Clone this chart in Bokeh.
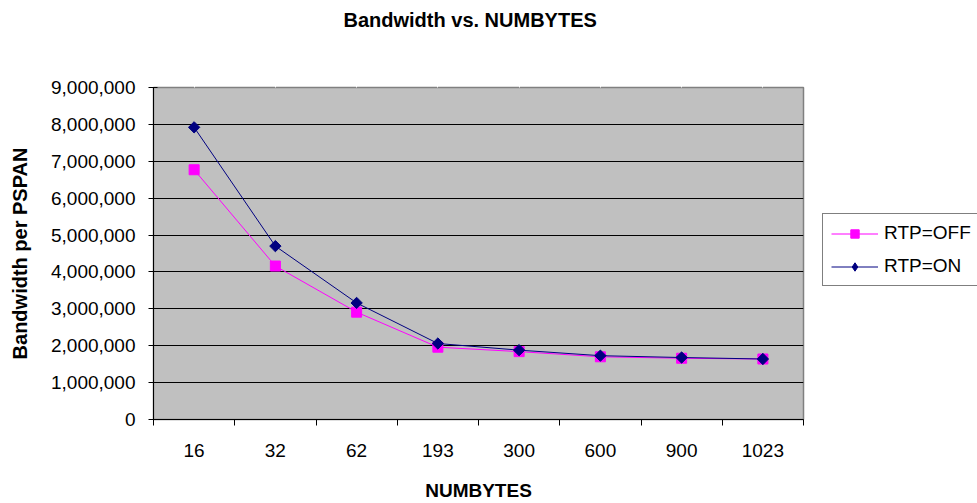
import numpy as np
from bokeh.plotting import figure
from bokeh.layouts import row
from bokeh.models import (Range1d, FixedTicker, NumeralTickFormatter, Legend, LegendItem, LinearAxis)
from bokeh.embed import file_html
from bokeh.resources import INLINE

# ---- data ----
categories = ["16", "32", "62", "193", "300", "600", "900", "1023"]
rtp_off = [6770000, 4160000, 2910000, 1960000, 1840000, 1700000, 1660000, 1640000]
rtp_on = [7920000, 4700000, 3160000, 2060000, 1880000, 1730000, 1680000, 1640000]
y_ticks = [0, 1000000, 2000000, 3000000, 4000000, 5000000, 6000000, 7000000, 8000000, 9000000]

title_text = "Bandwidth vs. NUMBYTES"
x_title = "NUMBYTES"
y_title = "Bandwidth per PSPAN"
off_label = "RTP=OFF"
on_label = "RTP=ON"

OFF_COLOR = "#FF00FF"
ON_COLOR = "#000080"
FONT = "Liberation Sans"

xs = [i + 0.5 for i in range(len(categories))]

p = figure(width=822, height=503, output_backend="svg", toolbar_location=None,
           x_range=Range1d(0, len(categories)), y_range=Range1d(y_ticks[0], y_ticks[-1]),
           min_border_left=153, min_border_right=19, min_border_top=87, min_border_bottom=82,
           background_fill_color="#C0C0C0", border_fill_color="white")

p.outline_line_color = "#808080"
p.outline_line_width = 1.5

# spacer axis above the frame (invisible ticks, empty labels) so the title sits at the top
spacer = LinearAxis(ticker=FixedTicker(ticks=xs), axis_line_color=None,
                    major_tick_line_color="white", minor_tick_line_color=None,
                    major_tick_out=57, major_tick_in=0, minor_tick_out=0, minor_tick_in=0,
                    major_label_overrides={x: "" for x in xs},
                    major_label_standoff=0, major_label_text_font_size="1px")
p.add_layout(spacer, "above")

# title (placed by Bokeh outside the top axis)
p.title.text = title_text
p.title.align = "left"
p.title.offset = 190
p.title.standoff = 0
p.title.text_font = FONT
p.title.text_font_size = "20px"
p.title.text_font_style = "bold"
p.title.text_color = "black"

# x axis
xa = p.below[0]
xa.ticker = FixedTicker(ticks=xs, minor_ticks=list(range(len(categories) + 1)))
xa.major_label_overrides = {x: c for x, c in zip(xs, categories)}
xa.major_tick_line_color = None
xa.major_tick_out = 0
xa.major_tick_in = 0
xa.minor_tick_line_color = "black"
xa.minor_tick_out = 6
xa.minor_tick_in = 0
xa.axis_line_color = "black"
xa.major_label_text_font = FONT
xa.major_label_text_font_size = "19px"
xa.major_label_text_color = "black"
xa.major_label_standoff = 18
xa.axis_label = x_title
xa.axis_label_text_font = FONT
xa.axis_label_text_font_size = "19px"
xa.axis_label_text_font_style = "bold"
xa.axis_label_text_color = "black"
xa.axis_label_standoff = 20

# y axis
ya = p.left[0]
ya.ticker = FixedTicker(ticks=y_ticks)
ya.formatter = NumeralTickFormatter(format="0,0")
ya.minor_tick_line_color = None
ya.major_tick_in = 4
ya.major_tick_out = 5
ya.major_tick_line_color = "black"
ya.axis_line_color = "black"
ya.major_label_text_font = FONT
ya.major_label_text_font_size = "19px"
ya.major_label_text_color = "black"
ya.major_label_standoff = 13
ya.axis_label = y_title
ya.axis_label_text_font = FONT
ya.axis_label_text_font_size = "20px"
ya.axis_label_text_font_style = "bold"
ya.axis_label_text_color = "black"
ya.axis_label_standoff = 17

# grids
p.xgrid.grid_line_color = None
p.ygrid.ticker = FixedTicker(ticks=y_ticks[1:-1])
p.ygrid.grid_line_color = "black"
p.ygrid.grid_line_width = 1.2

# series
p.line(xs, rtp_off, line_color=OFF_COLOR, line_width=1)
p.scatter(xs, rtp_off, marker="square", size=10, fill_color=OFF_COLOR, line_color=OFF_COLOR)
p.line(xs, rtp_on, line_color=ON_COLOR, line_width=1)
p.scatter(xs, rtp_on, marker="square", angle=np.pi / 4, size=8,
          fill_color=ON_COLOR, line_color=ON_COLOR)

# legend panel (separate figure to the right, like Excel's legend box)
q = figure(width=155, height=503, output_backend="svg", toolbar_location=None,
           x_axis_type=None, y_axis_type=None,
           min_border_left=0, min_border_right=0, min_border_top=0, min_border_bottom=0,
           background_fill_color="white", border_fill_color="white")
q.outline_line_color = None
q.grid.visible = False
nan = [np.nan]
lo_line = q.line(nan, nan, line_color=OFF_COLOR, line_width=1)
lo_mark = q.scatter(nan, nan, marker="square", size=7, fill_color=OFF_COLOR, line_color=OFF_COLOR)
ln_line = q.line(nan, nan, line_color=ON_COLOR, line_width=1)
ln_mark = q.scatter(nan, nan, marker="diamond", size=9,
                    fill_color=ON_COLOR, line_color=ON_COLOR)

legend = Legend(items=[LegendItem(label=off_label, renderers=[lo_line, lo_mark]),
                       LegendItem(label=on_label, renderers=[ln_line, ln_mark])],
                location=(0, 133))
legend.border_line_color = "black"
legend.border_line_width = 1
legend.background_fill_color = "white"
legend.background_fill_alpha = 1
legend.label_text_font = FONT
legend.label_text_font_size = "19px"
legend.label_text_color = "black"
legend.glyph_width = 47
legend.glyph_height = 21
legend.label_height = 21
legend.label_standoff = 6
legend.padding = 8
legend.spacing = 11
legend.margin = 0
q.add_layout(legend, "center")

layout = row(p, q, spacing=0)

open("out.html", "w").write(file_html(layout, INLINE))
